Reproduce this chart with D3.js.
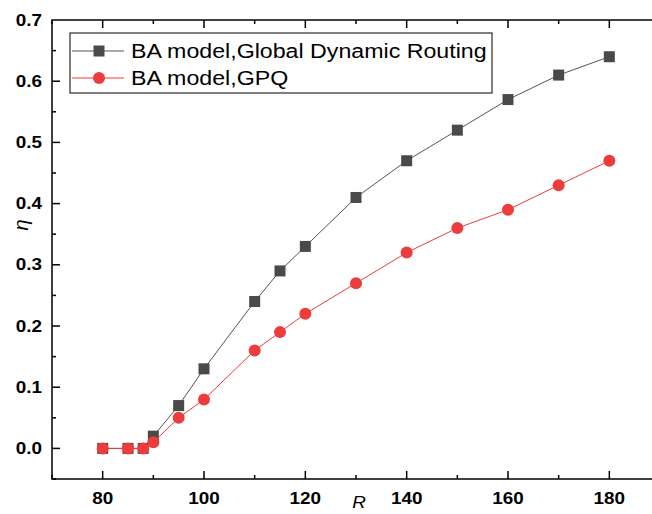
<!DOCTYPE html>
<html>
<head>
<meta charset="utf-8">
<script src="https://cdn.jsdelivr.net/npm/d3@7"></script>
<style>
  body { margin: 0; background: #fff; }
  text { font-family: Arial, "Liberation Sans", sans-serif; }
  .tickLabel { font-weight: bold; font-size: 16px; }
</style>
</head>
<body>
<div id="chart"></div>
<script>
const rValues = [80, 85, 88, 90, 95, 100, 110, 115, 120, 130, 140, 150, 160, 170, 180];
const globalDynamic = [0, 0, 0, 0.02, 0.07, 0.13, 0.24, 0.29, 0.33, 0.41, 0.47, 0.52, 0.57, 0.61, 0.64];
const gpq = [0, 0, 0, 0.01, 0.05, 0.08, 0.16, 0.19, 0.22, 0.27, 0.32, 0.36, 0.39, 0.43, 0.47];
const xTicks = [80, 100, 120, 140, 160, 180];
const yTicks = [0.0, 0.1, 0.2, 0.3, 0.4, 0.5, 0.6, 0.7];
const seriesNames = ['BA model,Global Dynamic Routing', 'BA model,GPQ'];

const width = 652, height = 514;
const margin = { top: 20, right: -8, bottom: 35, left: 52 };

const svg = d3.select('#chart').append('svg')
    .attr('width', width)
    .attr('height', height);

const x = d3.scaleLinear()
    .domain([70, 190])
    .range([margin.left, width - margin.right]);

const y = d3.scaleLinear()
    .domain([-0.05, 0.7])
    .range([height - margin.bottom, margin.top]);

const x0 = x.range()[0], x1 = x.range()[1];
const y0 = y.range()[0], y1 = y.range()[1];

// text in the original figure is a bit wider than tall
function wideText(parent, tx, ty, str, anchor, stretch) {
    return parent.append('g')
        .attr('transform', `translate(${tx},${ty}) scale(${stretch || 1.18},1)`)
        .append('text')
        .attr('text-anchor', anchor || 'start')
        .text(str);
}

// frame (left, bottom, top)
svg.append('path')
    .attr('d', `M${x1},${y1}H${x0}V${y0}H${x1}`)
    .attr('fill', 'none')
    .attr('stroke', '#000')
    .attr('stroke-width', 1.5);

// x ticks (inward, bottom and top)
const xMinor = d3.range(70, 191, 10);
xMinor.forEach(v => {
    const major = xTicks.includes(v);
    const len = major ? 8 : 4;
    svg.append('line')
        .attr('x1', x(v)).attr('x2', x(v))
        .attr('y1', y0).attr('y2', y0 - len)
        .attr('stroke', '#000').attr('stroke-width', 1.5);
    svg.append('line')
        .attr('x1', x(v)).attr('x2', x(v))
        .attr('y1', y1).attr('y2', y1 + len)
        .attr('stroke', '#000').attr('stroke-width', 1.5);
});
xTicks.forEach(d => {
    wideText(svg, x(d), y0 + 25, d, 'middle').attr('class', 'tickLabel');
});

// y ticks (inward)
const yMinor = d3.range(0, 15).map(i => -0.05 + i * 0.05);
yMinor.forEach(v => {
    const major = yTicks.some(t => Math.abs(t - v) < 1e-6);
    svg.append('line')
        .attr('x1', x0).attr('x2', x0 + (major ? 8 : 4))
        .attr('y1', y(v)).attr('y2', y(v))
        .attr('stroke', '#000').attr('stroke-width', 1.5);
});
yTicks.forEach(d => {
    wideText(svg, x0 - 10, y(d) + 5.5, d3.format('.1f')(d), 'end').attr('class', 'tickLabel');
});

// axis titles
wideText(svg, 359, 508, 'R', 'middle')
    .style('font-style', 'italic')
    .style('font-size', '16px');

svg.append('text')
    .attr('transform', `translate(28, 225) rotate(-90)`)
    .attr('text-anchor', 'middle')
    .style('font-style', 'italic')
    .style('font-size', '20px')
    .text('η');

const line = d3.line()
    .x((d, i) => x(rValues[i]))
    .y(d => y(d));

// global dynamic routing series
svg.append('path')
    .attr('d', line(globalDynamic))
    .attr('fill', 'none')
    .attr('stroke', '#555')
    .attr('stroke-width', 1);

svg.selectAll('rect.gd')
    .data(globalDynamic)
    .enter()
    .append('rect')
    .attr('class', 'gd')
    .attr('x', (d, i) => x(rValues[i]) - 5.5)
    .attr('y', d => y(d) - 5.5)
    .attr('width', 11)
    .attr('height', 11)
    .attr('fill', '#4a4a4a');

// GPQ series
svg.append('path')
    .attr('d', line(gpq))
    .attr('fill', 'none')
    .attr('stroke', '#ee3b3b')
    .attr('stroke-width', 1);

svg.selectAll('circle.gpq')
    .data(gpq)
    .enter()
    .append('circle')
    .attr('class', 'gpq')
    .attr('cx', (d, i) => x(rValues[i]))
    .attr('cy', d => y(d))
    .attr('r', 6)
    .attr('fill', '#ee3b3b');

// legend
const legend = svg.append('g');
legend.append('rect')
    .attr('x', 70).attr('y', 33)
    .attr('width', 422).attr('height', 60)
    .attr('fill', '#fff')
    .attr('stroke', '#000')
    .attr('stroke-width', 1);

const rows = [51, 78];
legend.append('line')
    .attr('x1', 72).attr('x2', 124)
    .attr('y1', rows[0]).attr('y2', rows[0])
    .attr('stroke', '#555').attr('stroke-width', 1);
legend.append('rect')
    .attr('x', 99 - 5.5).attr('y', rows[0] - 5.5)
    .attr('width', 11).attr('height', 11)
    .attr('fill', '#4a4a4a');
legend.append('line')
    .attr('x1', 72).attr('x2', 124)
    .attr('y1', rows[1]).attr('y2', rows[1])
    .attr('stroke', '#ee3b3b').attr('stroke-width', 1);
legend.append('circle')
    .attr('cx', 99).attr('cy', rows[1])
    .attr('r', 6)
    .attr('fill', '#ee3b3b');

seriesNames.forEach((name, i) => {
    wideText(legend, 131, rows[i] + 7, name, 'start', 1.16).style('font-size', '20px');
});
</script>
</body>
</html>
